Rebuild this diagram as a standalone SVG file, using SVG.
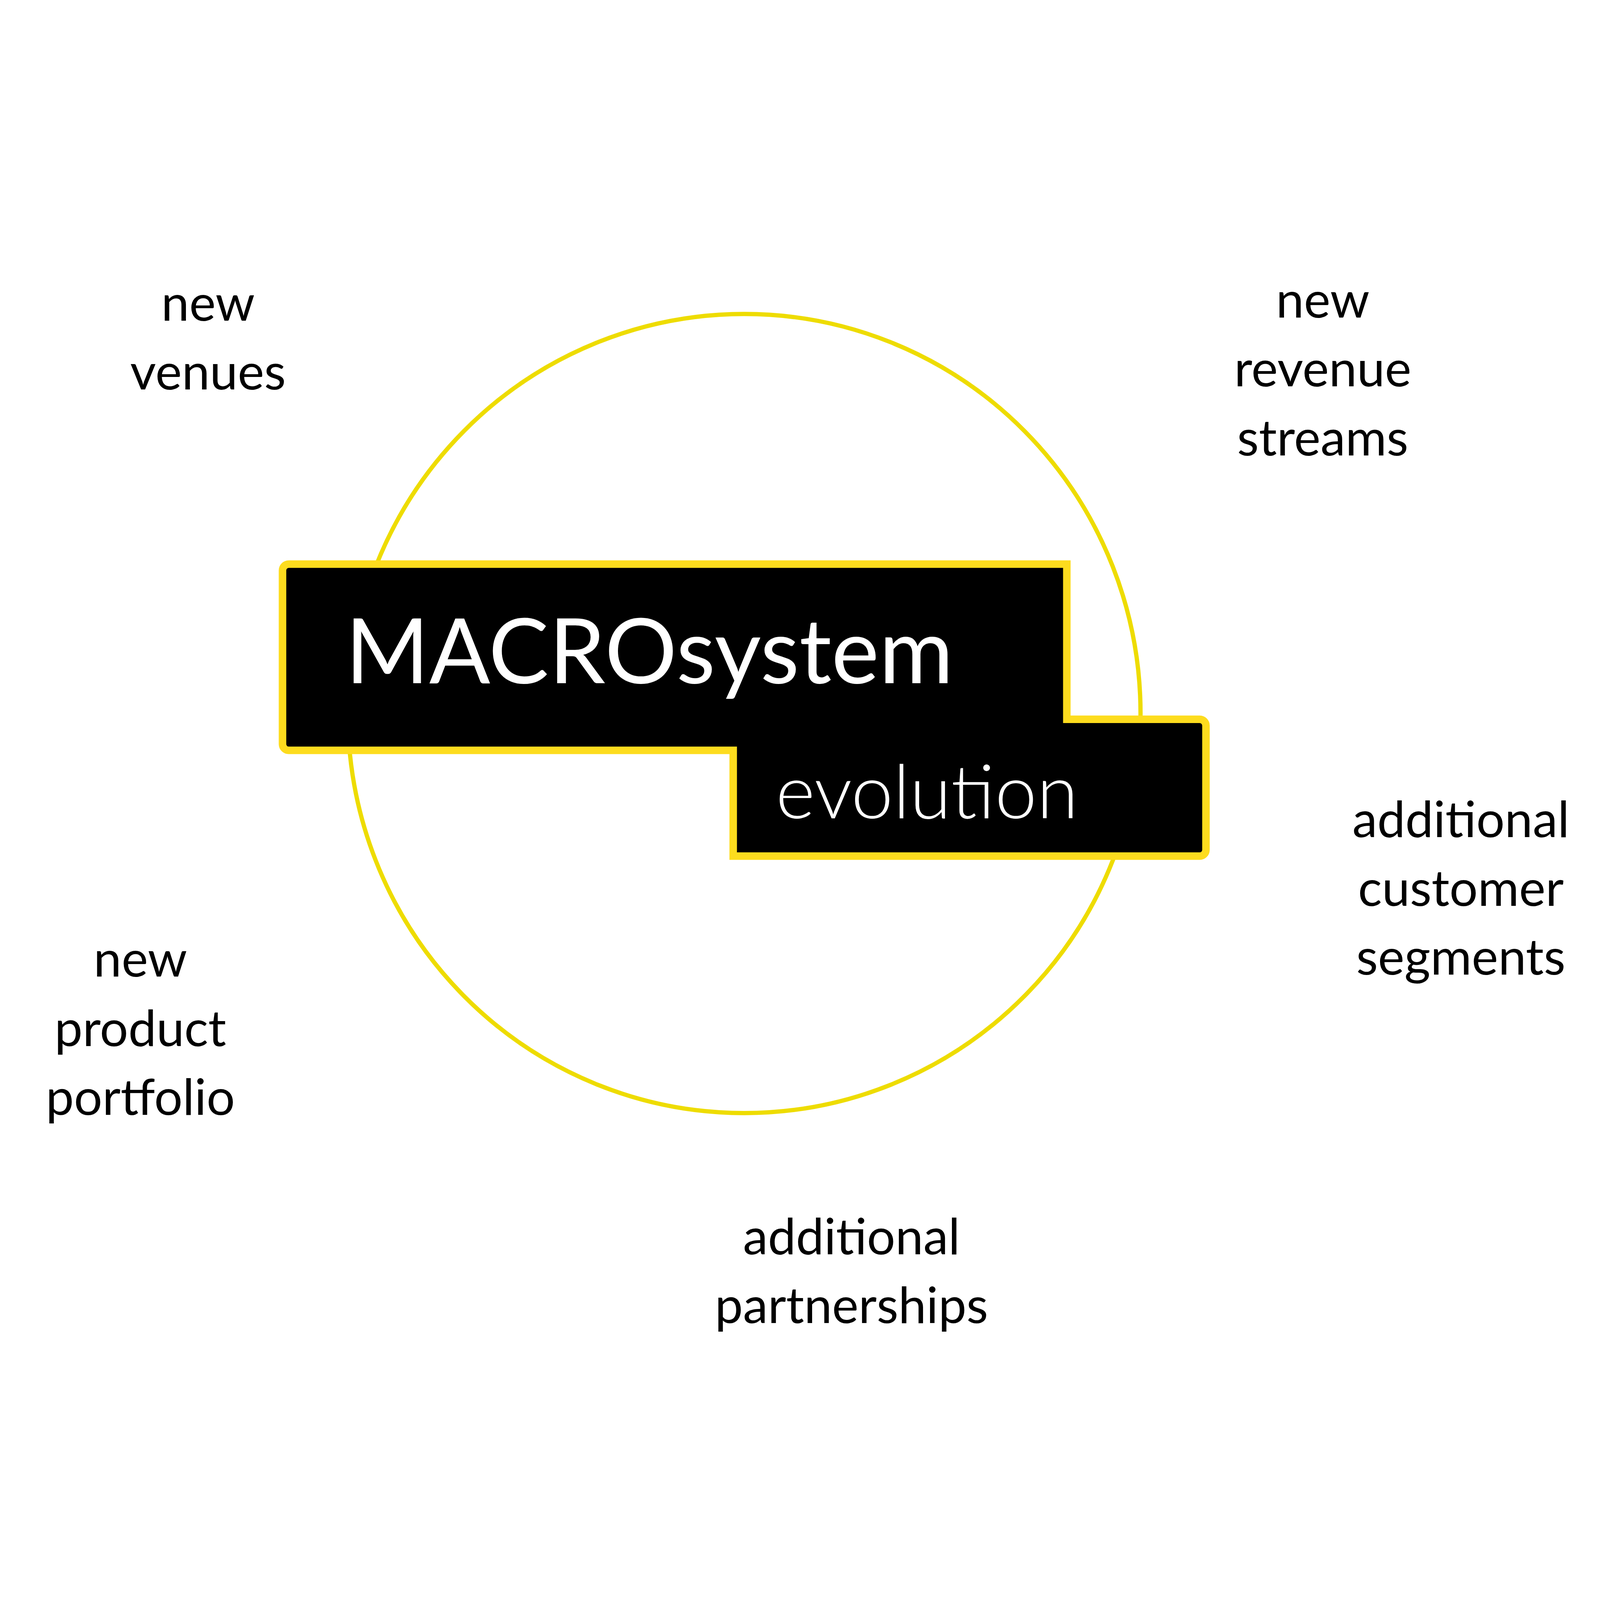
<svg xmlns="http://www.w3.org/2000/svg" width="6383" height="4300" viewBox="0 0 6383 4300" style="width:100vw;height:100vh;display:block">
  <style>
    .lbl { font-family: Lato, "Open Sans", "Liberation Sans", sans-serif; font-size: 200px; fill: #000000; text-anchor: middle; }
    .ring { fill: none; stroke: #EEDC00; stroke-width: 17; }
    .box { fill: #000000; stroke: #FDDC1E; stroke-width: 30; stroke-linejoin: miter; }
    .title { font-family: Lato, "Open Sans", "Liberation Sans", sans-serif; fill: #FFFFFF; }
  </style>
  <rect x="0" y="0" width="6383" height="4300" fill="#FFFFFF"/>
  <g id="connectors">
    <ellipse class="ring" cx="2969" cy="1805" rx="1581" ry="1594"/>
  </g>
  <g id="node-macrosystem">
    <path class="box" d="M 1152 1209 H 4256 V 1828 H 4786 A 25 25 0 0 1 4811 1853 V 2349 A 25 25 0 0 1 4786 2374 H 2925 V 1952 H 1152 A 25 25 0 0 1 1127 1927 V 1234 A 25 25 0 0 1 1152 1209 Z"/>
    <text class="title" x="1378" y="1684" font-size="360" font-weight="400">MACROsystem</text>
    <text class="title" x="3095" y="2224" font-size="300" font-weight="300">evolution</text>
  </g>
  <g id="node-new-venues">
    <text class="lbl" x="830" y="238">new</text>
    <text class="lbl" x="830" y="512">venues</text>
  </g>
  <g id="node-new-revenue-streams">
    <text class="lbl" x="5277" y="225">new</text>
    <text class="lbl" x="5277" y="500">revenue</text>
    <text class="lbl" x="5277" y="775">streams</text>
  </g>
  <g id="node-additional-customer-segments">
    <text class="lbl" x="5828" y="2298">additional</text>
    <text class="lbl" x="5828" y="2573">customer</text>
    <text class="lbl" x="5828" y="2847">segments</text>
  </g>
  <g id="node-new-product-portfolio">
    <text class="lbl" x="560" y="2855">new</text>
    <text class="lbl" x="560" y="3131">product</text>
    <text class="lbl" x="560" y="3406">portfolio</text>
  </g>
  <g id="node-additional-partnerships">
    <text class="lbl" x="3397" y="3962">additional</text>
    <text class="lbl" x="3397" y="4237">partnerships</text>
  </g>
</svg>
